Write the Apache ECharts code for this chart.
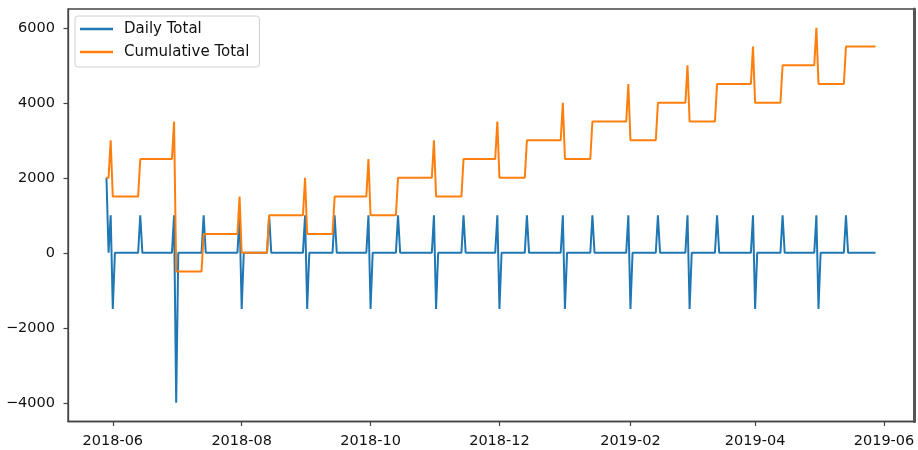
<!DOCTYPE html>
<html>
<head>
<meta charset="utf-8">
<title>Daily and Cumulative Total</title>
<script src="https://cdn.jsdelivr.net/npm/echarts@6/dist/echarts.min.js"></script>
<style>
  html, body { margin: 0; padding: 0; background: #fff; }
  #chart { width: 918px; height: 450px; }
</style>
</head>
<body>
<div id="chart"></div>
<script>
// Series run one value per day over this span
const startDate = '2018-05-29';
const endDate = '2019-05-28';

// Days on which the daily total is non-zero (every other day is 0)
const eventDates = [
  '2018-05-29', '2018-05-31', '2018-06-01', '2018-06-14', '2018-06-30',
  '2018-07-01', '2018-07-14', '2018-07-31', '2018-08-01', '2018-08-14',
  '2018-08-31', '2018-09-01', '2018-09-14', '2018-09-30', '2018-10-01',
  '2018-10-14', '2018-10-31', '2018-11-01', '2018-11-14', '2018-11-30',
  '2018-12-01', '2018-12-14', '2018-12-31', '2019-01-01', '2019-01-14',
  '2019-01-31', '2019-02-01', '2019-02-14', '2019-02-28', '2019-03-01',
  '2019-03-14', '2019-03-31', '2019-04-01', '2019-04-14', '2019-04-30',
  '2019-05-01', '2019-05-14'
];

// Daily total on each of those days
const dailyAmounts = [
  2000, 1000, -1500, 1000, 1000,
  -4000, 1000, 1000, -1500, 1000,
  1000, -1500, 1000, 1000, -1500,
  1000, 1000, -1500, 1000, 1000,
  -1500, 1000, 1000, -1500, 1000,
  1000, -1500, 1000, 1000, -1500,
  1000, 1000, -1500, 1000, 1000,
  -1500, 1000
];

// Cumulative total reached on each of those days (held until the next one)
const cumulativeLevels = [
  2000, 3000, 1500, 2500, 3500,
  -500, 500, 1500, 0, 1000,
  2000, 500, 1500, 2500, 1000,
  2000, 3000, 1500, 2500, 3500,
  2000, 3000, 4000, 2500, 3500,
  4500, 3000, 4000, 5000, 3500,
  4500, 5500, 4000, 5000, 6000,
  4500, 5500
];

// Axis tick labels
const xTickLabels = ['2018-06', '2018-08', '2018-10', '2018-12', '2019-02', '2019-04', '2019-06'];
const yTickLabels = [-4000, -2000, 0, 2000, 4000, 6000];

const seriesNames = ['Daily Total', 'Cumulative Total'];

function parseDay(s) {
  const p = s.split('-').map(Number);
  return new Date(p[0], p[1] - 1, p[2] || 1);
}
function dayKey(d) {
  const m = String(d.getMonth() + 1).padStart(2, '0');
  const dd = String(d.getDate()).padStart(2, '0');
  return d.getFullYear() + '-' + m + '-' + dd;
}

// Expand the day-by-day rows
const dailyData = [];
const cumulativeData = [];
const eventIndex = {};
eventDates.forEach((d, i) => { eventIndex[d] = i; });
let level = null;
for (let d = parseDay(startDate); d <= parseDay(endDate); d.setDate(d.getDate() + 1)) {
  const key = dayKey(d);
  const t = d.getTime();
  const i = eventIndex[key];
  if (i !== undefined) level = cumulativeLevels[i];
  dailyData.push([t, i !== undefined ? dailyAmounts[i] : 0]);
  cumulativeData.push([t, level]);
}

// 5% padding on either side of the date span
const t0 = parseDay(startDate).getTime();
const t1 = parseDay(endDate).getTime();
const pad = (t1 - t0) * 0.05;

const xTickValues = xTickLabels.map(s => parseDay(s).getTime());

const font = 'DejaVu Sans';
const axisColor = '#444';
const textColor = '#111';

const chart = echarts.init(document.getElementById('chart'), null, { renderer: 'canvas' });
chart.setOption({
  animation: false,
  backgroundColor: '#ffffff',
  grid: {
    left: 68, top: 9, width: 846, height: 412.5,
    show: true, borderColor: axisColor, borderWidth: 1.3, backgroundColor: 'transparent'
  },
  legend: {
    orient: 'vertical',
    left: 75, top: 16,
    padding: [4, 10, 6, 5],
    itemGap: 5,
    itemWidth: 33,
    itemHeight: 2.5,
    icon: 'rect',
    borderColor: '#d0d0d0',
    borderWidth: 1,
    borderRadius: 3,
    backgroundColor: 'rgba(255,255,255,0.85)',
    textStyle: {
      fontFamily: font, fontSize: 15, color: textColor,
      lineHeight: 18, padding: [0, 0, 0, 6]
    },
    data: seriesNames
  },
  xAxis: {
    // dates as millisecond timestamps on a linear axis
    type: 'value',
    min: t0 - pad,
    max: t1 + pad,
    scale: true,
    splitLine: { show: false },
    axisLine: { show: true, onZero: false, lineStyle: { color: axisColor, width: 1.3 } },
    axisTick: {
      show: true, length: 4.5, inside: false,
      lineStyle: { color: axisColor, width: 1.2 },
      customValues: xTickValues
    },
    axisLabel: {
      fontFamily: font, fontSize: 14.5, color: textColor, margin: 12,
      customValues: xTickValues,
      formatter: function (v) {
        const d = new Date(v);
        return d.getFullYear() + '-' + String(d.getMonth() + 1).padStart(2, '0');
      }
    }
  },
  yAxis: [{
    type: 'value',
    min: -4500,
    max: 6500,
    splitLine: { show: false },
    axisLine: { show: true, onZero: false, lineStyle: { color: axisColor, width: 1.3 } },
    axisTick: {
      show: true, length: 4.5, inside: false,
      lineStyle: { color: axisColor, width: 1.2 },
      customValues: yTickLabels
    },
    axisLabel: {
      fontFamily: font, fontSize: 14.5, color: textColor, margin: 13,
      customValues: yTickLabels,
      formatter: function (v) { return v < 0 ? '\u2212' + Math.abs(v) : String(v); }
    }
  }, {
    type: 'value',
    position: 'right',
    min: -4500,
    max: 6500,
    splitLine: { show: false },
    axisLine: { show: true, lineStyle: { color: '#555', width: 3 } },
    axisTick: { show: false },
    axisLabel: { show: false }
  }],
  series: [{
    name: seriesNames[0],
    type: 'line',
    data: dailyData,
    showSymbol: false,
    color: '#1f77b4',
    lineStyle: { width: 2, color: '#1f77b4' },
    z: 2
  }, {
    name: seriesNames[1],
    type: 'line',
    data: cumulativeData,
    showSymbol: false,
    color: '#ff7f0e',
    lineStyle: { width: 2, color: '#ff7f0e' },
    z: 3
  }]
});
</script>
</body>
</html>
